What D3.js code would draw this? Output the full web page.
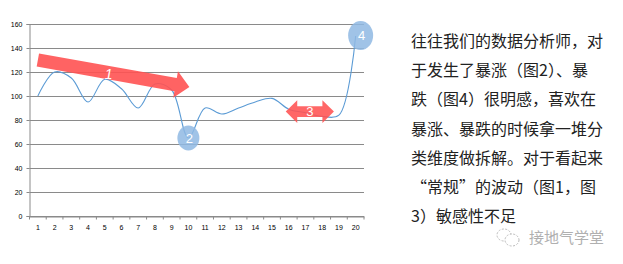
<!DOCTYPE html>
<html>
<head>
<meta charset="utf-8">
<script src="https://cdn.jsdelivr.net/npm/d3@7"></script>
<style>
	body { margin: 0; background: #fff; }
	svg { display: block; }
	.tick text { font-family: "Liberation Sans", Arial, sans-serif; font-size: 7px; fill: #000; }
	.note { font-family: "Noto Sans CJK SC", sans-serif; font-size: 16px; fill: #222; }
	.mark { font-family: "Noto Sans CJK SC", sans-serif; font-size: 15px; fill: #b0b0b0; }
</style>
</head>
<body>
<div id="chart"></div>
<script>

// data
// ----------------------------------------

var categories = d3.range(1, 21);
var values = [100, 120, 115, 95, 114, 106, 90, 110, 105, 65,
	90, 85, 90, 95, 98, 89, 86, 83, 84, 150];
var y_ticks = [0, 20, 40, 60, 80, 100, 120, 140, 160];

// annotations, in category / value units
var bubbles = [
	{label: "2", cat: 10, shift: 0, value: 65, rx: 11, ry: 12.5},
	{label: "4", cat: 20, shift: 5, value: 150.5, rx: 12.5, ry: 14.5}
];
var trend_arrow = {label: "1", from: [1, 130], to: [10, 107.5]};
var flat_arrow = {label: "3", from: [16, 87], to: [19, 87]};

var note_lines = [
	"往往我们的数据分析师，对",
	"于发生了暴涨（图2）、暴",
	"跌（图4）很明感，喜欢在",
	"暴涨、暴跌的时候拿一堆分",
	"类维度做拆解。对于看起来",
	"“常规”的波动（图1，图",
	"3）敏感性不足"
];

// main variables
// ----------------------------------------

var width = 623, height = 264;
var margin = {top: 24, left: 29.5, right: 259, bottom: 48};

var svg = d3.select("#chart")
	.append("svg")
	.attr("width", width)
	.attr("height", height);

var x = d3.scaleBand()
	.domain(categories)
	.range([margin.left, width - margin.right]);

var y = d3.scaleLinear()
	.domain([0, 160])
	.range([height - margin.bottom, margin.top]);

function cx(c) { return x(c) + x.bandwidth() / 2; }

// grid + axes
// ----------------------------------------

svg.append("g")
	.attr("class", "grid")
	.selectAll("line")
	.data(y_ticks)
	.enter()
	.append("line")
	.attr("x1", margin.left)
	.attr("x2", width - margin.right)
	.attr("y1", function(d) { return Math.round(y(d)) + 0.5; })
	.attr("y2", function(d) { return Math.round(y(d)) + 0.5; })
	.attr("stroke", "#8a8a8a")
	.attr("stroke-width", 1);

var y_axis = svg.append("g")
	.attr("transform", "translate(" + margin.left + ",0)")
	.call(d3.axisLeft(y).tickValues(y_ticks).tickSize(3).tickPadding(4));
y_axis.select(".domain").attr("stroke", "#8a8a8a");
y_axis.selectAll(".tick line").attr("stroke", "#8a8a8a");

var x_axis = svg.append("g")
	.attr("transform", "translate(0," + (Math.round(y(0)) + 0.5) + ")")
	.call(d3.axisBottom(x).tickSize(0).tickPadding(9));
x_axis.select(".domain").attr("stroke", "#8a8a8a");

// tick marks on the category edges
x_axis.selectAll(".edge")
	.data(categories.concat([null]))
	.enter()
	.append("line")
	.attr("class", "edge")
	.attr("x1", function(d) { return d === null ? width - margin.right : x(d); })
	.attr("x2", function(d) { return d === null ? width - margin.right : x(d); })
	.attr("y1", 0)
	.attr("y2", 3)
	.attr("stroke", "#8a8a8a");

// series
// ----------------------------------------

var line = d3.line()
	.x(function(d, i) { return cx(categories[i]); })
	.y(function(d) { return y(d); })
	.curve(d3.curveCatmullRom.alpha(0.5));

svg.append("path")
	.datum(values)
	.attr("d", line)
	.attr("fill", "none")
	.attr("stroke", "#5b9bd5")
	.attr("stroke-width", 1.1);

// bubbles
// ----------------------------------------

var bub = svg.append("g").selectAll("g")
	.data(bubbles)
	.enter()
	.append("g")
	.attr("transform", function(d) {
		return "translate(" + (cx(d.cat) + d.shift) + "," + y(d.value) + ")";
	});

bub.append("ellipse")
	.attr("rx", function(d) { return d.rx; })
	.attr("ry", function(d) { return d.ry; })
	.attr("fill", "#8fb8e3")
	.attr("opacity", 0.85);

bub.append("text")
	.text(function(d) { return d.label; })
	.attr("text-anchor", "middle")
	.attr("dy", "0.36em")
	.attr("x", 1)
	.attr("font-family", "Liberation Sans, Arial, sans-serif")
	.attr("font-size", 13)
	.attr("fill", "#fff");

// arrows
// ----------------------------------------

function arrow_path(len, half, head_len, head_half) {
	return "M0," + (-half) + " L" + (len - head_len) + "," + (-half) +
		" L" + (len - head_len) + "," + (-head_half) + " L" + len + ",0" +
		" L" + (len - head_len) + "," + head_half + " L" + (len - head_len) + "," + half +
		" L0," + half + " Z";
}

function double_arrow_path(len, half, head_len, head_half) {
	return "M0,0 L" + head_len + "," + (-head_half) + " L" + head_len + "," + (-half) +
		" L" + (len - head_len) + "," + (-half) + " L" + (len - head_len) + "," + (-head_half) +
		" L" + len + ",0 L" + (len - head_len) + "," + head_half +
		" L" + (len - head_len) + "," + half + " L" + head_len + "," + half +
		" L" + head_len + "," + head_half + " Z";
}

// trend arrow "1"
var a1x = cx(trend_arrow.from[0]), a1y = y(trend_arrow.from[1]),
	b1x = cx(trend_arrow.to[0]) + 1, b1y = y(trend_arrow.to[1]);
var len1 = Math.sqrt((b1x - a1x) * (b1x - a1x) + (b1y - a1y) * (b1y - a1y)),
	ang1 = Math.atan2(b1y - a1y, b1x - a1x) * 180 / Math.PI;

var g1 = svg.append("g")
	.attr("transform", "translate(" + a1x + "," + a1y + ") rotate(" + ang1 + ")");
g1.append("path")
	.attr("d", arrow_path(len1, 6.7, 14, 13.5))
	.attr("fill", "#ff5252")
	.attr("opacity", 0.9);
g1.append("text")
	.text(trend_arrow.label)
	.attr("x", 72)
	.attr("y", 1)
	.attr("dy", "0.36em")
	.attr("text-anchor", "middle")
	.attr("font-family", "Liberation Sans, Arial, sans-serif")
	.attr("font-style", "italic")
	.attr("font-size", 14)
	.attr("fill", "#fff")
	.attr("transform", "rotate(" + (-ang1) + ",72,1)");

// flat arrow "3"
var a3x = cx(flat_arrow.from[0]) - 3, b3x = cx(flat_arrow.to[0]) - 5,
	a3y = y(flat_arrow.from[1]);
var g3 = svg.append("g")
	.attr("transform", "translate(" + a3x + "," + a3y + ")");
g3.append("path")
	.attr("d", double_arrow_path(b3x - a3x, 5.3, 11.5, 11.3))
	.attr("fill", "#ff5252")
	.attr("opacity", 0.88);
g3.append("text")
	.text(flat_arrow.label)
	.attr("x", (b3x - a3x) / 2)
	.attr("dy", "0.36em")
	.attr("text-anchor", "middle")
	.attr("font-family", "Liberation Sans, Arial, sans-serif")
	.attr("font-size", 13)
	.attr("fill", "#fff");

// side note
// ----------------------------------------

svg.append("g")
	.selectAll("text")
	.data(note_lines)
	.enter()
	.append("text")
	.attr("class", "note")
	.attr("x", 411)
	.attr("y", function(d, i) { return 47 + i * 29.2; })
	.text(function(d) { return d; });

// watermark
// ----------------------------------------

var wm = svg.append("g").attr("transform", "translate(508,237)");
wm.append("ellipse")
	.attr("cx", -4).attr("cy", -2).attr("rx", 7).attr("ry", 6)
	.attr("fill", "none").attr("stroke", "#bbb").attr("stroke-dasharray", "2,1.5");
wm.append("ellipse")
	.attr("cx", 4).attr("cy", 3).attr("rx", 7).attr("ry", 6)
	.attr("fill", "#fff").attr("stroke", "#bbb").attr("stroke-dasharray", "2,1.5");

svg.append("text")
	.attr("class", "mark")
	.attr("x", 529)
	.attr("y", 243)
	.text("接地气学堂");

</script>
</body>
</html>
